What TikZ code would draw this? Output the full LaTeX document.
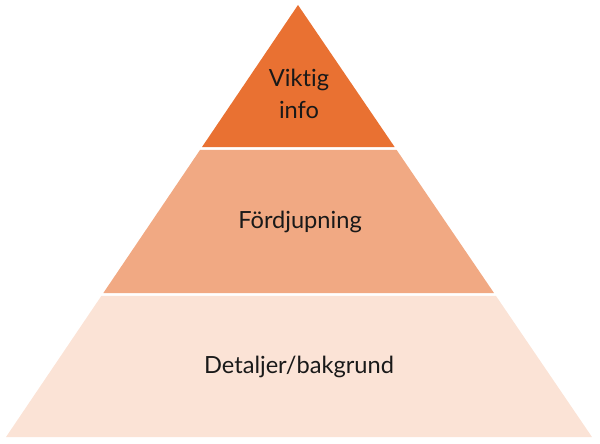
\documentclass[tikz,border=0pt]{standalone}
\usepackage{fontspec}
\setmainfont{Lato}[Ligatures={NoCommon,NoRare,NoDiscretionary}]
\usetikzlibrary{calc}
\definecolor{tiertop}{HTML}{E97132}
\definecolor{tiermid}{HTML}{F1A983}
\definecolor{tierlow}{HTML}{FBE3D6}
\tikzset{tiertext/.style={text=black!90, font=\fontsize{16.8}{23}\selectfont, align=center}}

\begin{document}
\begin{tikzpicture}[x=0.025cm, y=0.025cm]
			%%%%% START %%%%%
			
			\useasboundingbox (0, 0) rectangle (600, 443);
			
			\coordinate (apex) at (298, 438);
			\coordinate (left) at (6, 6);
			\coordinate (right) at (592, 6);
			
			\fill[tiertop] (apex) -- ($(apex)!0.3287!(left)$) -- ($(apex)!0.3287!(right)$) -- cycle;
			\fill[tiermid] ($(apex)!0.3356!(left)$) -- ($(apex)!0.6667!(left)$) -- ($(apex)!0.6667!(right)$) -- ($(apex)!0.3356!(right)$) -- cycle;
			\fill[tierlow] ($(apex)!0.6736!(left)$) -- (left) -- (right) -- ($(apex)!0.6736!(right)$) -- cycle;
			
			\node[tiertext] (viktig) at (299, 349) {Viktig\\info};
			\node[tiertext] (fordjupning) at (300, 221) {Fördjupning};
			\node[tiertext] (detaljer) at (299, 76) {Detaljer/bakgrund};
			
			%%%%% END %%%%%
\end{tikzpicture}
\end{document}
